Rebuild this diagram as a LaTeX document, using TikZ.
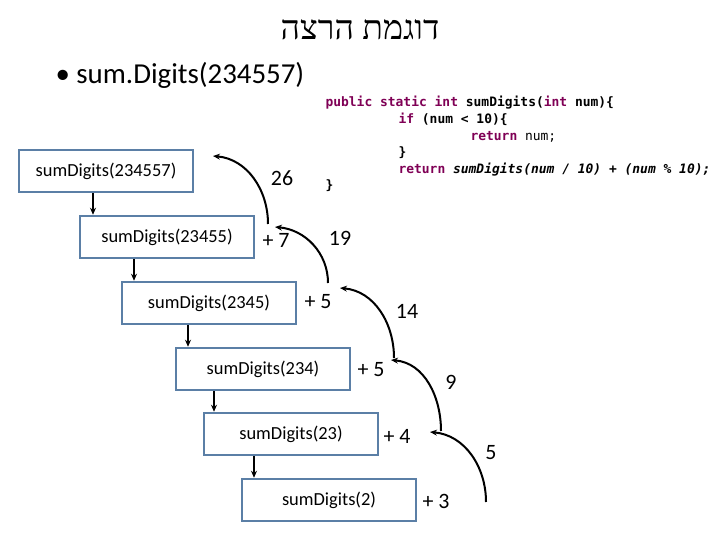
\documentclass[tikz,border=0pt]{standalone}
\usepackage{fontspec}
\setmainfont{Carlito}
\newfontfamily\hebfont{Liberation Serif}
\newfontfamily\codefont{DejaVu Sans Mono}
\usetikzlibrary{arrows.meta}
\TeXXeTstate=1
\definecolor{boxblue}{HTML}{5B7FA6}
\definecolor{kw}{HTML}{7F0055}
\begin{document}
\begin{tikzpicture}[x=1bp,y=-1bp,
    call/.style={draw=boxblue,line width=2.5bp,minimum width=174bp,minimum height=42bp,font=\fontsize{18.5}{20}\selectfont},
    down/.style={line width=2bp,-{Stealth[length=7bp,width=6bp]}},
    back/.style={line width=2bp,-{Stealth[length=7bp,width=6bp]}},
    num/.style={font=\fontsize{22}{24}\selectfont},
    code/.style={anchor=base west,font=\codefont\fontsize{13}{15}\selectfont}]
  \useasboundingbox (0,0) rectangle (720,540);
  \node (title) at (360,30) {\hebfont\fontsize{34}{36}\selectfont\beginR דוגמת הרצה\endR};
  \node[anchor=west] (bullet) at (52,75) {\fontsize{29}{31}\selectfont\textbullet\ sum.Digits(234557)};
  % code
  \node[code] (c1) at (322,107) {\textcolor{kw}{\bfseries public static int} \bfseries sumDigits(\textcolor{kw}{int} num)\{};
  \node[code] (c2) at (395,124) {\textcolor{kw}{\bfseries if} \bfseries (num < 10)\{};
  \node[code] (c3) at (467,141) {\textcolor{kw}{\bfseries return} num;};
  \node[code] (c4) at (395,157) {\bfseries \}};
  \node[code] (c5) at (395,174) {\textcolor{kw}{\bfseries return} \bfseries\itshape sumDigits(num / 10) + (num \% 10);};
  \node[code] (c6) at (322,190) {\bfseries \}};
  % calls
  \node[call] (s1) at (106,171) {sumDigits(234557)};
  \node[call] (s2) at (167,237) {sumDigits(23455)};
  \node[call] (s3) at (209,303) {sumDigits(2345)};
  \node[call] (s4) at (263,369) {sumDigits(234)};
  \node[call] (s5) at (291,434) {sumDigits(23)};
  \node[call] (s6) at (329,500) {sumDigits(2)};
  \draw[down] (s1.south -| 93,0) -- (s2.north -| 93,0);
  \draw[down] (s2.south -| 134,0) -- (s3.north -| 134,0);
  \draw[down] (s3.south -| 188,0) -- (s4.north -| 188,0);
  \draw[down] (s4.south -| 214,0) -- (s5.north -| 214,0);
  \draw[down] (s5.south -| 254,0) -- (s6.north -| 254,0);
  % returns
  \coordinate (r0) at (213,156);
  \coordinate (r1) at (268,224);
  \coordinate (r1e) at (275,227);
  \coordinate (r2) at (328,283);
  \coordinate (r2e) at (340,288);
  \coordinate (r3) at (394,358);
  \coordinate (r3e) at (391,360);
  \coordinate (r4) at (441,431);
  \coordinate (r4e) at (430,432);
  \coordinate (r5) at (486,502);
  \draw[back] (r5) to[out=90,in=-5] (r4e);
  \draw[back] (r4) to[out=90,in=-5] (r3e);
  \draw[back] (r3) to[out=90,in=-5] (r2e);
  \draw[back] (r2) to[out=90,in=-5] (r1e);
  \draw[back] (r1) to[out=90,in=-5] (r0);
  \node[num] (v26) at (282,178) {26};
  \node[num] (p7) at (276,240) {+ 7};
  \node[num] (v19) at (340,238) {19};
  \node[num] (p5a) at (318,302) {+ 5};
  \node[num] (v14) at (407,311) {14};
  \node[num] (p5b) at (371,370) {+ 5};
  \node[num] (v9) at (451,382) {9};
  \node[num] (p4) at (397,436) {+ 4};
  \node[num] (v5) at (491,453) {5};
  \node[num] (p3) at (436,501) {+ 3};
\end{tikzpicture}
\end{document}
